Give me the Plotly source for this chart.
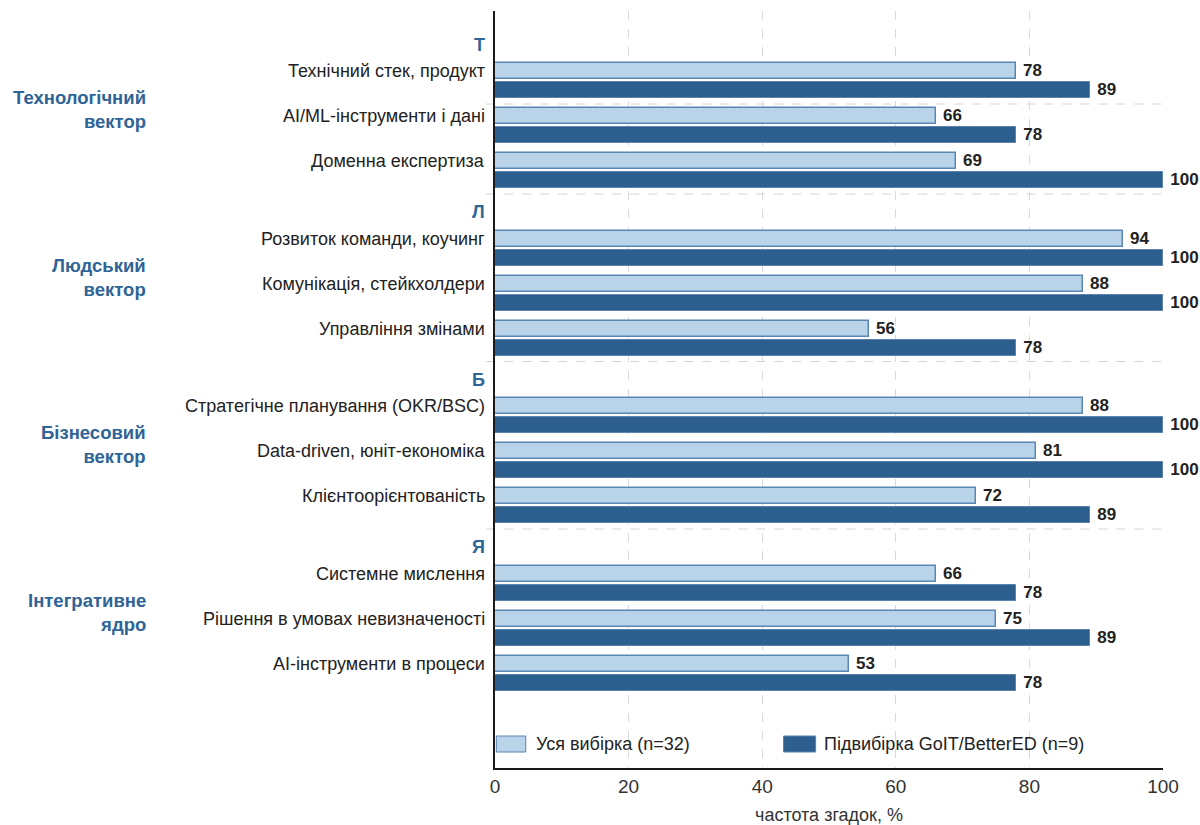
import plotly.graph_objects as go

# Competency vectors, their letter codes and the competencies within each
group_names = ["Технологічний<br>вектор", "Людський<br>вектор", "Бізнесовий<br>вектор", "Інтегративне<br>ядро"]
group_letters = ["Т", "Л", "Б", "Я"]
items = [
    "Технічний стек, продукт", "AI/ML-інструменти і дані", "Доменна експертиза",
    "Розвиток команди, коучинг", "Комунікація, стейкхолдери", "Управління змінами",
    "Стратегічне планування (OKR/BSC)", "Data-driven, юніт-економіка", "Клієнтоорієнтованість",
    "Системне мислення", "Рішення в умовах невизначеності", "AI-інструменти в процеси",
]
# Mention frequency, %
full_sample = [78, 66, 69, 94, 88, 56, 88, 81, 72, 66, 75, 53]
subsample = [89, 78, 100, 100, 100, 78, 100, 100, 89, 78, 89, 78]

series_names = ["Уся вибірка (n=32)", "Підвибірка GoIT/BetterED (n=9)"]
x_title = "частота згадок, %"

# Layout geometry (vertical axis runs in pixel-like units, top to bottom)
FIRST_ROW = 80.5
GROUP_STEP = 167.5
ROW_STEP = 45
BAR_OFFSET = 9.5
BAR_W = 16
ITEMS_PER_GROUP = 3

LIGHT = "#b9d4e8"
LIGHT_EDGE = "#5a86b3"
DARK = "#2d5f8e"
DARK_EDGE = "#5b84ad"
BLUE_TEXT = "#2f6496"
NARROW = "Liberation Sans Narrow, Arial Narrow, Liberation Sans, Arial, sans-serif"
SANS = "Liberation Sans, Arial, sans-serif"


def row_center(idx):
    g, i = divmod(idx, ITEMS_PER_GROUP)
    return FIRST_ROW + g * GROUP_STEP + i * ROW_STEP


centers = [row_center(k) for k in range(len(items))]
y_light = [c - BAR_OFFSET for c in centers]
y_dark = [c + BAR_OFFSET for c in centers]

value_font = dict(family=NARROW, size=17, color="#222222", weight="bold")

fig = go.Figure()
fig.add_trace(go.Bar(
    x=full_sample, y=y_light, orientation="h", width=BAR_W,
    marker=dict(color=LIGHT, line=dict(color=LIGHT_EDGE, width=1.5)),
    texttemplate=" %{x}", textposition="outside", constraintext="none", cliponaxis=False,
    textfont=value_font, name=series_names[0], showlegend=False,
))
fig.add_trace(go.Bar(
    x=subsample, y=y_dark, orientation="h", width=BAR_W,
    marker=dict(color=DARK, line=dict(color=DARK_EDGE, width=1)),
    texttemplate=" %{x}", textposition="outside", constraintext="none", cliponaxis=False,
    textfont=value_font, name=series_names[1], showlegend=False,
))

annotations = []
shapes = []

# Item labels to the left of the axis
for name, yl in zip(items, y_light):
    annotations.append(dict(
        x=-0.012, xref="paper", y=yl, yref="y", text=name, showarrow=False,
        xanchor="right", yanchor="middle",
        font=dict(family=SANS, size=18, color="#222222"),
    ))

for g, (gname, letter) in enumerate(zip(group_names, group_letters)):
    first = row_center(g * ITEMS_PER_GROUP)
    second = row_center(g * ITEMS_PER_GROUP + 1)
    # letter code heading
    annotations.append(dict(
        x=-0.012, xref="paper", y=first - 36, yref="y", text=f"<b>{letter}</b>",
        showarrow=False, xanchor="right", yanchor="middle",
        font=dict(family=SANS, size=18, color=BLUE_TEXT),
    ))
    # vector name
    annotations.append(dict(
        x=-0.52, xref="paper", y=second - 16, yref="y", text=f"<b>{gname}</b>",
        showarrow=False, xanchor="right", yanchor="middle", align="right",
        font=dict(family=SANS, size=18.5, color=BLUE_TEXT),
    ))
    # dashed separator above each group after the first
    if g > 0:
        shapes.append(dict(
            type="line", xref="paper", yref="y", x0=-0.013, x1=1,
            y0=first - 54, y1=first - 54,
            line=dict(color="#d4d4d4", width=1, dash="dash"), layer="below",
        ))

shapes.append(dict(
    type="line", xref="paper", yref="y", x0=-0.013, x1=1, y0=104, y1=104,
    line=dict(color="#d4d4d4", width=1, dash="dash"), layer="below",
))

# Legend swatches
LEG_Y = 744
legend_spec = [
    (0.2, 4.6, LIGHT, LIGHT_EDGE, 5.9, series_names[0]),
    (43.2, 48.0, DARK, DARK_EDGE, 49.0, series_names[1]),
]
for x0, x1, fill, edge, tx, label in legend_spec:
    shapes.append(dict(
        type="rect", xref="x", yref="y", x0=x0, x1=x1, y0=LEG_Y - 8, y1=LEG_Y + 8,
        fillcolor=fill, line=dict(color=edge, width=1),
    ))
    annotations.append(dict(
        x=tx, xref="x", y=LEG_Y, yref="y", text=label, showarrow=False,
        xanchor="left", yanchor="middle",
        font=dict(family=SANS, size=18, color="#222222"),
    ))

fig.update_layout(
    width=1200, height=825,
    margin=dict(l=495, r=37, t=11, b=57),
    paper_bgcolor="white", plot_bgcolor="white",
    barmode="overlay", bargap=0,
    showlegend=False,
    annotations=annotations, shapes=shapes,
    xaxis=dict(
        range=[0, 100], tickvals=[0, 20, 40, 60, 80, 100],
        showgrid=True, gridcolor="#d9d9d9", griddash="dash", gridwidth=1,
        zeroline=False, showline=True, linecolor="#1a1a1a", linewidth=2,
        ticks="", ticklabelstandoff=0, automargin=False,
        tickfont=dict(family=NARROW, size=19, color="#333333"),
        title=dict(text=x_title, font=dict(family=NARROW, size=18, color="#333333"), standoff=18),
    ),
    yaxis=dict(
        range=[768, 11], showgrid=False, zeroline=False, showticklabels=False,
        showline=True, linecolor="#1a1a1a", linewidth=2, ticks="", automargin=False,
    ),
)

fig.write_html("out.html")
